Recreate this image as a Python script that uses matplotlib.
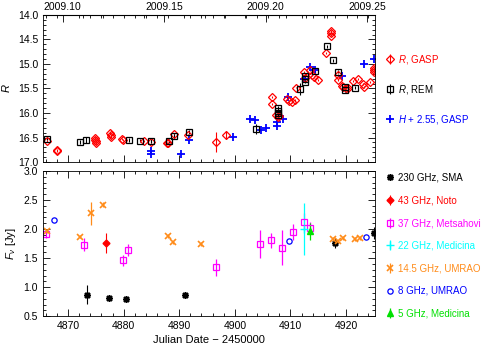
import numpy as np
import matplotlib.pyplot as plt
from matplotlib.ticker import MultipleLocator, FixedLocator

plt.rcParams['font.family'] = ['Liberation Sans', 'DejaVu Sans']
plt.rcParams['mathtext.fontset'] = 'custom'
plt.rcParams['mathtext.it'] = 'Liberation Sans:italic'
plt.rcParams['mathtext.rm'] = 'Liberation Sans'

# ---------------- optical / NIR (top panel) ----------------
gasp_jd = [4866.2, 4868.0, 4868.1, 4874.8, 4874.9, 4875.0, 4875.0, 4877.6, 4877.7, 4877.8,
           4879.7, 4879.9, 4883.7, 4884.9, 4887.8, 4888.0, 4889.1, 4891.6, 4896.6, 4898.5,
           4906.6, 4906.6, 4907.4, 4907.7, 4908.0, 4909.3, 4909.8, 4910.3, 4910.8, 4911.0,
           4912.5, 4912.7, 4913.5, 4913.9, 4914.3, 4914.9, 4916.4, 4917.3, 4917.3, 4917.3,
           4918.5, 4918.6, 4919.2, 4919.5, 4920.0, 4920.4, 4921.3, 4922.2, 4923.1, 4923.3,
           4924.3, 4925.1, 4925.1, 4925.1]
gasp_mag = [16.57, 16.75, 16.78, 16.50, 16.55, 16.58, 16.62, 16.40, 16.44, 16.48,
            16.53, 16.56, 16.58, 16.60, 16.62, 16.61, 16.42, 16.44, 16.59, 16.45,
            15.68, 15.81, 16.05, 16.09, 16.07, 15.71, 15.76, 15.78, 15.74, 15.48,
            15.17, 15.28, 15.13, 15.22, 15.27, 15.32, 14.77, 14.32, 14.37, 14.42,
            15.23, 15.33, 15.44, 15.47, 15.50, 15.48, 15.35, 15.31, 15.40, 15.47,
            15.36, 15.09, 15.13, 15.16]
gasp_err = [0.02, 0.02, 0.02, 0.02, 0.02, 0.02, 0.02, 0.02, 0.02, 0.02,
            0.02, 0.02, 0.02, 0.02, 0.02, 0.02, 0.02, 0.02, 0.21, 0.09,
            0.02, 0.02, 0.02, 0.02, 0.02, 0.02, 0.02, 0.02, 0.02, 0.02,
            0.02, 0.02, 0.02, 0.02, 0.02, 0.02, 0.02, 0.02, 0.02, 0.02,
            0.02, 0.02, 0.02, 0.02, 0.02, 0.02, 0.02, 0.02, 0.02, 0.02,
            0.02, 0.02, 0.02, 0.02]

rem_jd = [4866.2, 4872.2, 4873.3, 4881.0, 4882.9, 4884.9, 4888.2, 4889.1, 4891.8, 4903.8,
          4907.8, 4907.8, 4907.8, 4907.8, 4911.7, 4912.6, 4912.6, 4912.6, 4914.5, 4916.5,
          4917.7, 4918.6, 4919.8, 4919.8, 4921.6]
rem_mag = [16.52, 16.59, 16.55, 16.55, 16.57, 16.57, 16.57, 16.47, 16.38, 16.33,
           15.90, 15.95, 16.00, 16.05, 15.51, 15.24, 15.30, 15.36, 15.15, 14.64,
           14.92, 15.16, 15.46, 15.54, 15.48]
rem_err = [0.03, 0.04, 0.07, 0.04, 0.03, 0.04, 0.04, 0.05, 0.04, 0.10,
           0.04, 0.04, 0.04, 0.04, 0.12, 0.03, 0.03, 0.03, 0.03, 0.03,
           0.03, 0.03, 0.03, 0.03, 0.03]

h_jd = [4884.9, 4884.9, 4890.4, 4891.8, 4899.7, 4902.7, 4903.6, 4904.7, 4905.6, 4907.5,
        4907.5, 4908.6, 4909.5, 4912.4, 4913.5, 4914.4, 4919.2, 4923.3, 4925.1]
h_mag = [16.78, 16.83, 16.83, 16.55, 16.48, 16.12, 16.14, 16.34, 16.31, 16.19,
         16.26, 16.12, 15.68, 15.30, 15.06, 15.13, 15.25, 15.01, 14.89]

# ---------------- radio / mm (bottom panel) ----------------
sma_jd = [4873.4, 4877.3, 4880.4, 4891.0, 4918.0, 4925.0]
sma_f = [0.87, 0.81, 0.80, 0.86, 1.76, 1.93]
sma_e = [0.16, 0.04, 0.03, 0.04, 0.08, 0.10]

noto_jd = [4876.8]
noto_f = [1.76]
noto_e = [0.18]

mets_jd = [4866.0, 4872.9, 4879.8, 4880.8, 4896.6, 4904.5, 4906.5, 4908.5, 4910.4, 4912.4, 4913.5]
mets_f = [1.91, 1.73, 1.46, 1.64, 1.34, 1.75, 1.81, 1.68, 1.95, 2.13, 2.02]
mets_e = [0.06, 0.11, 0.10, 0.11, 0.14, 0.24, 0.13, 0.30, 0.13, 0.14, 0.10]

med22_jd = [4912.4]
med22_f = [2.00]
med22_e = [0.45]

um14_jd = [4866.3, 4872.2, 4874.1, 4876.2, 4888.0, 4888.9, 4893.9,
           4917.6, 4918.5, 4919.5, 4921.6, 4922.6]
um14_f = [1.97, 1.87, 2.27, 2.42, 1.88, 1.77, 1.74, 1.83, 1.79, 1.85, 1.83, 1.85]
um14_e = [0.03, 0.03, 0.20, 0.04, 0.03, 0.03, 0.03, 0.03, 0.03, 0.03, 0.03, 0.03]

um8_jd = [4867.4, 4909.8, 4923.6]
um8_f = [2.16, 1.80, 1.86]

med5_jd = [4913.5]
med5_f = [1.96]
med5_e = [0.15]

year_ticks = [2009.10, 2009.15, 2009.20, 2009.25]

ORANGE = '#ff8c1a'
GREEN = '#00e000'

fig = plt.figure(figsize=(4.91, 3.47), dpi=100)
ax1 = fig.add_axes([0.0876, 0.533, 0.676, 0.424])
ax2 = fig.add_axes([0.0876, 0.089, 0.676, 0.418])

ms = 4
h1 = ax1.errorbar(gasp_jd, gasp_mag, yerr=gasp_err, fmt='D', ms=ms, mfc='none', mec='red',
                  ecolor='red', elinewidth=0.8, mew=0.9, label='$R$, GASP')
h2 = ax1.errorbar(rem_jd, rem_mag, yerr=rem_err, fmt='s', ms=ms, mfc='none', mec='black',
                  ecolor='black', elinewidth=0.8, mew=0.9, label='$R$, REM')
h3, = ax1.plot(h_jd, h_mag, '+', color='blue', ms=5.5, mew=1.3, label='$H$ + 2.55, GASP')

ax2.errorbar(sma_jd, sma_f, yerr=sma_e, fmt='none', ecolor='black', elinewidth=0.8)
g1, = ax2.plot(sma_jd, sma_f, ls='none', marker=(8, 2, 0), ms=5, color='black', mew=1.1,
               label='230 GHz, SMA')
g2 = ax2.errorbar(noto_jd, noto_f, yerr=noto_e, fmt='D', ms=3.5, color='red',
                  elinewidth=0.8, label='43 GHz, Noto')
g3 = ax2.errorbar(mets_jd, mets_f, yerr=mets_e, fmt='s', ms=4.5, mfc='none', mec='magenta',
                  ecolor='magenta', mew=0.9, elinewidth=0.9, label='37 GHz, Metsahovi')
g4 = ax2.errorbar(med22_jd, med22_f, yerr=med22_e, fmt='+', ms=5.5, color='cyan', mew=1.0,
                  elinewidth=0.9, label='22 GHz, Medicina')
g5 = ax2.errorbar(um14_jd, um14_f, yerr=um14_e, fmt='x', ms=4.5, color=ORANGE, mew=1.2,
                  elinewidth=0.9, label='14.5 GHz, UMRAO')
g6, = ax2.plot(um8_jd, um8_f, 'o', ms=3.8, mfc='none', mec='blue', mew=0.9, label='8 GHz, UMRAO')
g7 = ax2.errorbar(med5_jd, med5_f, yerr=med5_e, fmt='^', ms=4, color=GREEN,
                  elinewidth=0.9, label='5 GHz, Medicina')

for ax in (ax1, ax2):
    ax.set_xlim(4865.5, 4925.2)
    ax.xaxis.set_major_locator(MultipleLocator(10))
    ax.xaxis.set_minor_locator(MultipleLocator(2))
    ax.tick_params(which='both', direction='in', top=True, right=True, labelsize=7.5, width=0.6)
    ax.tick_params(which='major', length=5)
    ax.tick_params(which='minor', length=2.5)
    for sp in ax.spines.values():
        sp.set_linewidth(0.6)

ax1.set_ylim(17.0, 14.0)
ax1.yaxis.set_major_locator(MultipleLocator(0.5))
ax1.yaxis.set_minor_locator(MultipleLocator(0.1))
ax1.yaxis.set_major_formatter(plt.FormatStrFormatter('%.1f'))
ax1.tick_params(labelbottom=False, top=False)
ax1.set_ylabel('$R$', fontsize=8, labelpad=4)

jd0 = 4832.5
secax = ax1.secondary_xaxis('top', functions=(lambda x: 2009 + (x - jd0) / 365.25,
                                               lambda y: (y - 2009) * 365.25 + jd0))
secax.xaxis.set_major_locator(FixedLocator(year_ticks))
secax.xaxis.set_minor_locator(FixedLocator(np.arange(2009.09, 2009.265, 0.01)))
secax.xaxis.set_major_formatter(plt.FormatStrFormatter('%.2f'))
secax.tick_params(which='both', direction='in', labelsize=7.5, width=0.6, pad=2)
secax.tick_params(which='major', length=5)
secax.tick_params(which='minor', length=2.5)

ax2.set_ylim(0.5, 3.0)
ax2.yaxis.set_major_locator(MultipleLocator(0.5))
ax2.yaxis.set_minor_locator(MultipleLocator(0.1))
ax2.yaxis.set_major_formatter(plt.FormatStrFormatter('%.1f'))
ax2.set_ylabel(r'$F_\nu$ [Jy]', fontsize=8, labelpad=4)
ax2.set_xlabel('Julian Date \u2212 2450000', fontsize=8, labelpad=3)

ax1.legend(handles=[h1, h2, h3], loc='upper left', bbox_to_anchor=(1.015, 0.79),
           frameon=False, fontsize=7, labelcolor='markeredgecolor', handlelength=0.7,
           handletextpad=0.5, labelspacing=1.75, borderaxespad=0.3)
ax2.legend(handles=[g1, g2, g3, g4, g5, g6, g7], loc='upper left', bbox_to_anchor=(1.015, 1.035),
           frameon=False, fontsize=7, labelcolor='markeredgecolor', handlelength=0.7,
           handletextpad=0.5, labelspacing=1.3, borderaxespad=0.3)

fig.savefig('out.png', dpi=100)
